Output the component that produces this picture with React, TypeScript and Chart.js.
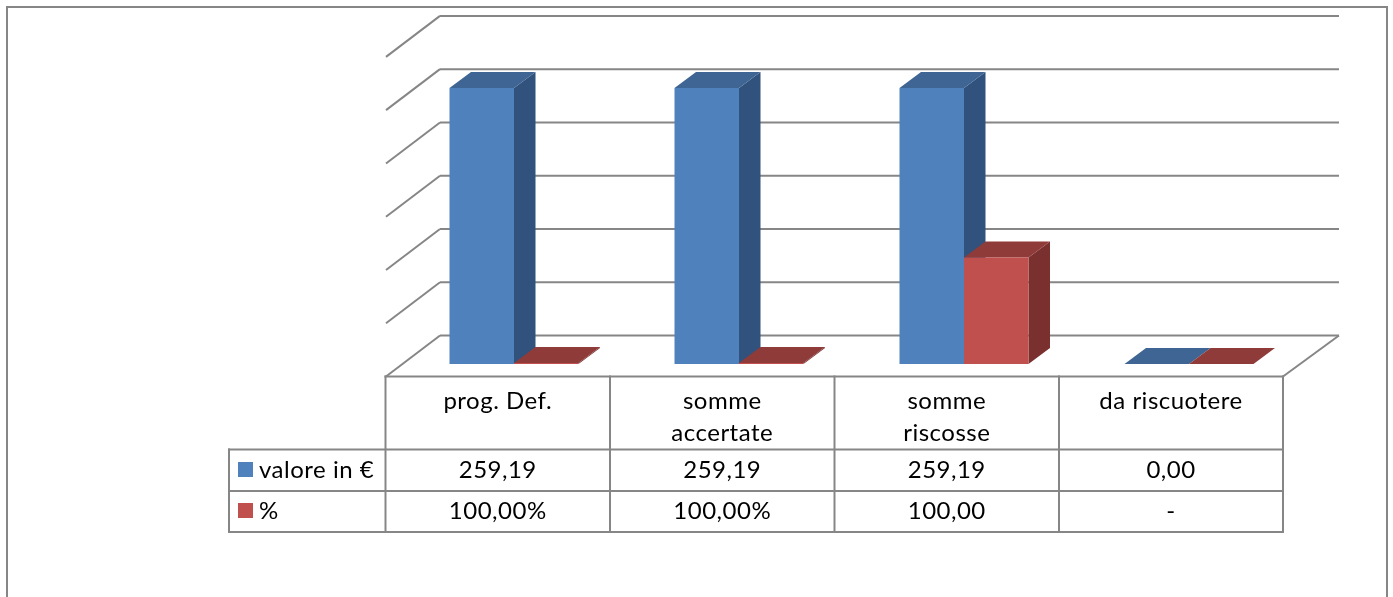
import React, { useEffect, useRef } from "react";
import { Chart, registerables } from "chart.js";

Chart.register(...registerables);

const categories = ["prog. Def.", "somme accertate", "somme riscosse", "da riscuotere"];
const categoryLines = [["prog. Def."], ["somme", "accertate"], ["somme", "riscosse"], ["da riscuotere"]];
const seriesNames = ["valore in €", "%"];
const valori = [259.19, 259.19, 259.19, 0];
const percentuali = [1, 1, 100, 0];
const valoriLabels = ["259,19", "259,19", "259,19", "0,00"];
const percentualiLabels = ["100,00%", "100,00%", "100,00", "-"];

const FONT = '24px Lato, "Open Sans", sans-serif';
const LINE = "#868686";
const FACE = [
  { front: "#4F81BD", top: "#3E6593", side: "#30527C" },
  { front: "#C0504D", top: "#8F3B39", side: "#7A302E" },
];
const DEPTH_X = 21.5;
const DEPTH_Y = 16;

function line(ctx: CanvasRenderingContext2D, x1: number, y1: number, x2: number, y2: number) {
  ctx.beginPath();
  ctx.moveTo(x1, y1);
  ctx.lineTo(x2, y2);
  ctx.stroke();
}

function poly(ctx: CanvasRenderingContext2D, pts: number[][], fill: string) {
  ctx.fillStyle = fill;
  ctx.beginPath();
  pts.forEach(([x, y], i) => (i ? ctx.lineTo(x, y) : ctx.moveTo(x, y)));
  ctx.closePath();
  ctx.fill();
}

const scene3d = {
  id: "scene3d",
  beforeDatasetsDraw(chart: any) {
    const { ctx, scales } = chart;
    const y = scales.y;
    const backL = 440;
    const backR = 1339;
    const frontL = 386;
    const frontR = 1283;
    ctx.save();
    ctx.strokeStyle = LINE;
    ctx.lineWidth = 2;
    ctx.lineCap = "butt";
    // outer frame (open at the bottom)
    ctx.beginPath();
    ctx.moveTo(7, 597);
    ctx.lineTo(7, 7);
    ctx.lineTo(1387, 7);
    ctx.lineTo(1387, 597);
    ctx.stroke();
    // walls and gridlines
    y.ticks.forEach((t: any) => {
      const py = y.getPixelForValue(t.value);
      line(ctx, backL, py - 28.5, backR, py - 28.5);
      line(ctx, frontL, py + 12.5, backL, py - 28.5);
    });
    const floorBack = y.getPixelForValue(0) - 28.5;
    const floorFront = y.getPixelForValue(0) + 12.5;
    line(ctx, backR, floorBack, frontR, floorFront);
    // bar depth faces
    [0, 1].forEach((ds) => {
      chart.getDatasetMeta(ds).data.forEach((bar: any) => {
        const l = bar.x - bar.width / 2;
        const r = bar.x + bar.width / 2;
        const t = bar.y;
        const b = bar.base;
        const c = FACE[ds];
        poly(ctx, [[r, t], [r + DEPTH_X, t - DEPTH_Y], [r + DEPTH_X, b - DEPTH_Y], [r, b]], c.side);
        poly(ctx, [[l, t], [l + DEPTH_X, t - DEPTH_Y], [r + DEPTH_X, t - DEPTH_Y], [r, t]], c.top);
      });
    });
    ctx.restore();
  },
  afterDatasetsDraw(chart: any) {
    const { ctx } = chart;
    const colX = [385.5, 610, 834.5, 1059, 1283];
    const rows = [376.5, 449.5, 491, 532];
    const tableL = 229;
    ctx.save();
    ctx.strokeStyle = LINE;
    ctx.lineWidth = 2;
    ctx.lineCap = "square";
    line(ctx, colX[0], rows[0], colX[4], rows[0]);
    rows.slice(1).forEach((r) => line(ctx, tableL, r, colX[4], r));
    colX.forEach((x) => line(ctx, x, rows[0], x, rows[3]));
    line(ctx, tableL, rows[1], tableL, rows[3]);

    ctx.fillStyle = "#000";
    ctx.font = FONT;
    (ctx as any).letterSpacing = "0.5px";
    ctx.textBaseline = "middle";
    ctx.textAlign = "center";
    categoryLines.forEach((ls, i) => {
      const cx = (colX[i] + colX[i + 1]) / 2;
      ls.forEach((s, k) => ctx.fillText(s, cx, 401 + k * 32));
      ctx.fillText(valoriLabels[i], cx, 470.5);
      ctx.fillText(percentualiLabels[i], cx, 511.5);
    });
    ctx.textAlign = "left";
    seriesNames.forEach((s, i) => {
      const cy = i === 0 ? 470 : 511;
      ctx.fillStyle = FACE[i].front;
      ctx.fillRect(238, cy - 8, 15, 15);
      ctx.fillStyle = "#000";
      ctx.fillText(s, 259, cy);
    });
    ctx.restore();
  },
};

export default function App() {
  const ref = useRef<HTMLCanvasElement>(null);
  useEffect(() => {
    const chart = new Chart(ref.current!, {
      type: "bar",
      data: {
        labels: categories,
        datasets: [
          { label: seriesNames[0], data: valori, backgroundColor: FACE[0].front },
          { label: seriesNames[1], data: percentuali, backgroundColor: FACE[1].front },
        ],
      },
      options: {
        animation: false,
        responsive: false,
        devicePixelRatio: 1,
        layout: { padding: { left: 401.5, right: 91.5, top: 44.4, bottom: 233 } },
        datasets: { bar: { categoryPercentage: 0.5733, barPercentage: 1 } },
        scales: {
          x: { display: false },
          y: { display: false, min: 0, max: 300, ticks: { stepSize: 50 } },
        },
        plugins: { legend: { display: false }, tooltip: { enabled: false } },
      },
      plugins: [scene3d],
    } as any);
    return () => chart.destroy();
  }, []);
  return (
    <canvas
      ref={ref}
      width={1393}
      height={597}
      style={{ position: "fixed", left: 0, top: 0, display: "block" }}
    />
  );
}
